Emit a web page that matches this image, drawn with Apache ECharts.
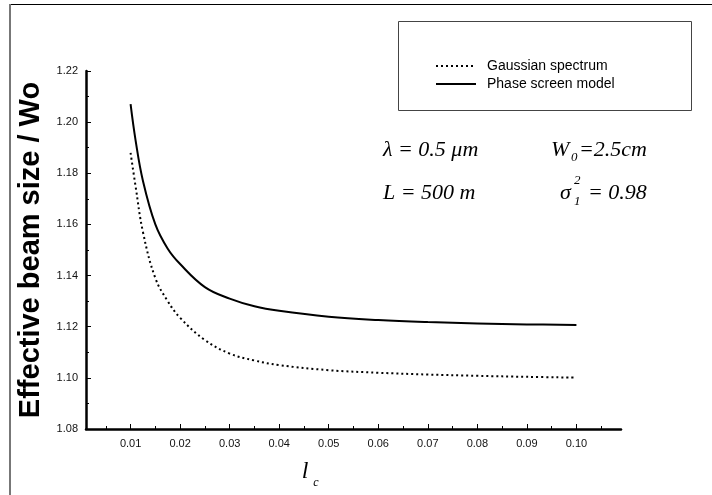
<!DOCTYPE html>
<html>
<head>
<meta charset="utf-8">
<script src="https://cdn.jsdelivr.net/npm/echarts@6/dist/echarts.min.js"></script>
<style>
  html, body { margin: 0; padding: 0; background: #fff; }
  #echarts_box { width: 712px; height: 495px; }
</style>
</head>
<body>
<div id="echarts_box"></div>
<script>
// l_c values (x) and the two curves
var lcValues = [0.010, 0.011, 0.0125, 0.015, 0.0175, 0.020, 0.025, 0.030, 0.035, 0.040, 0.050, 0.060, 0.070, 0.080, 0.090, 0.100];
var phaseScreen = [1.207, 1.193, 1.177, 1.160, 1.1505, 1.1445, 1.1355, 1.131, 1.128, 1.1262, 1.1239, 1.1226, 1.1218, 1.1213, 1.1209, 1.1207];
var gaussian = [1.188, 1.175, 1.157, 1.139, 1.130, 1.1235, 1.1148, 1.1095, 1.1068, 1.105, 1.103, 1.102, 1.1013, 1.1008, 1.1004, 1.1001];

var xMajorTicks = [0.01, 0.02, 0.03, 0.04, 0.05, 0.06, 0.07, 0.08, 0.09, 0.10];
var xMinorTicks = [0.005, 0.015, 0.025, 0.035, 0.045, 0.055, 0.065, 0.075, 0.085, 0.095, 0.105];

function pairs(xs, ys) {
  let out = [];
  for (let i = 0; i < xs.length; i++) {
    out.push([xs[i], ys[i]]);
  }
  return out;
}

var serif = '"Liberation Serif", "Times New Roman", serif';
var sans = '"Liberation Sans", Arial, sans-serif';

var myChart = echarts.init(document.getElementById("echarts_box"));
myChart.setOption({
  animation: false,
  backgroundColor: '#fff',
  grid: {
    left: 86,
    right: 91,
    top: 71,
    bottom: 66,
    containLabel: false
  },
  legend: {
    orient: 'vertical',
    left: 430,
    top: 54,
    itemWidth: 40,
    itemHeight: 12,
    itemGap: 4,
    itemStyle: { opacity: 0 },
    textStyle: { fontFamily: sans, fontSize: 14, color: '#000', padding: [0, 0, 0, 6] },
    data: ['Gaussian spectrum', 'Phase screen model']
  },
  xAxis: [
    {
      type: 'value',
      position: 'bottom',
      min: 0.001,
      max: 0.109,
      splitLine: { show: false },
      axisLine: { lineStyle: { color: '#000', width: 2.5 } },
      axisTick: { inside: true, length: 5, customValues: xMajorTicks, lineStyle: { color: '#000', width: 1 } },
      axisLabel: {
        customValues: xMajorTicks,
        margin: 9,
        fontFamily: sans,
        fontSize: 11,
        color: '#111',
        formatter: function (v) { return v.toFixed(2); }
      }
    },
    {
      // minor ticks only
      type: 'value',
      position: 'bottom',
      min: 0.001,
      max: 0.109,
      splitLine: { show: false },
      axisLine: { show: false },
      axisTick: { inside: true, length: 3, customValues: xMinorTicks, lineStyle: { color: '#000', width: 1 } },
      axisLabel: { show: false }
    }
  ],
  yAxis: {
    type: 'value',
    min: 1.08,
    max: 1.22,
    interval: 0.02,
    splitLine: { show: false },
    axisLine: { show: true, lineStyle: { color: '#000', width: 2.5 } },
    axisTick: { show: true, inside: true, length: 5, lineStyle: { color: '#000', width: 1 } },
    minorTick: { show: true, splitNumber: 2, length: 3, lineStyle: { color: '#000', width: 1 } },
    axisLabel: {
      margin: 8,
      fontFamily: sans,
      fontSize: 11,
      color: '#111',
      formatter: function (v) { return v.toFixed(2); }
    }
  },
  series: [
    {
      name: 'Gaussian spectrum',
      type: 'line',
      data: pairs(lcValues, gaussian),
      smooth: 0.4,
      symbol: 'none',
      lineStyle: { color: '#000', width: 2, type: [2, 3] },
      itemStyle: { color: '#000' }
    },
    {
      name: 'Phase screen model',
      type: 'line',
      data: pairs(lcValues, phaseScreen),
      smooth: 0.4,
      symbol: 'none',
      lineStyle: { color: '#000', width: 2 },
      itemStyle: { color: '#000' }
    }
  ],
  graphic: [
    // outer frame (top and left edges visible)
    { type: 'line', shape: { x1: 10, y1: 4.5, x2: 712, y2: 4.5 }, style: { stroke: '#000', lineWidth: 1 } },
    { type: 'line', shape: { x1: 10, y1: 4, x2: 10, y2: 495 }, style: { stroke: '#777', lineWidth: 2 } },
    // legend box
    { type: 'rect', shape: { x: 398.5, y: 21.5, width: 293, height: 89 }, style: { fill: 'none', stroke: '#444', lineWidth: 1 } },
    // y axis title
    {
      type: 'text', x: 31, y: 250, rotation: Math.PI / 2,
      style: { text: 'Effective beam size / Wo', fontFamily: sans, fontWeight: 'bold', fontSize: 29, fill: '#000', align: 'center', verticalAlign: 'middle' }
    },
    // x axis title l_c
    { type: 'text', x: 305, y: 472, style: { text: 'l', fontFamily: serif, fontStyle: 'italic', fontSize: 24, fill: '#000', align: 'center', verticalAlign: 'middle' } },
    { type: 'text', x: 316, y: 483, style: { text: 'c', fontFamily: serif, fontStyle: 'italic', fontSize: 12, fill: '#000', align: 'center', verticalAlign: 'middle' } },
    // parameters
    { type: 'text', x: 383, y: 150, style: { text: 'λ = 0.5 μm', fontFamily: serif, fontStyle: 'italic', fontSize: 22, fill: '#000', verticalAlign: 'middle' } },
    { type: 'text', x: 551, y: 150, style: { text: 'W', fontFamily: serif, fontStyle: 'italic', fontSize: 22, fill: '#000', verticalAlign: 'middle' } },
    { type: 'text', x: 571, y: 158, style: { text: '0', fontFamily: serif, fontStyle: 'italic', fontSize: 13, fill: '#000', verticalAlign: 'middle' } },
    { type: 'text', x: 579, y: 150, style: { text: '=2.5cm', fontFamily: serif, fontStyle: 'italic', fontSize: 22, fill: '#000', verticalAlign: 'middle' } },
    { type: 'text', x: 383, y: 193, style: { text: 'L = 500 m', fontFamily: serif, fontStyle: 'italic', fontSize: 22, fill: '#000', verticalAlign: 'middle' } },
    { type: 'text', x: 560, y: 193, style: { text: 'σ', fontFamily: serif, fontStyle: 'italic', fontSize: 22, fill: '#000', verticalAlign: 'middle' } },
    { type: 'text', x: 574, y: 181, style: { text: '2', fontFamily: serif, fontStyle: 'italic', fontSize: 13, fill: '#000', verticalAlign: 'middle' } },
    { type: 'text', x: 574, y: 202, style: { text: '1', fontFamily: serif, fontStyle: 'italic', fontSize: 13, fill: '#000', verticalAlign: 'middle' } },
    { type: 'text', x: 588, y: 193, style: { text: '= 0.98', fontFamily: serif, fontStyle: 'italic', fontSize: 22, fill: '#000', verticalAlign: 'middle' } }
  ]
});
</script>
</body>
</html>
